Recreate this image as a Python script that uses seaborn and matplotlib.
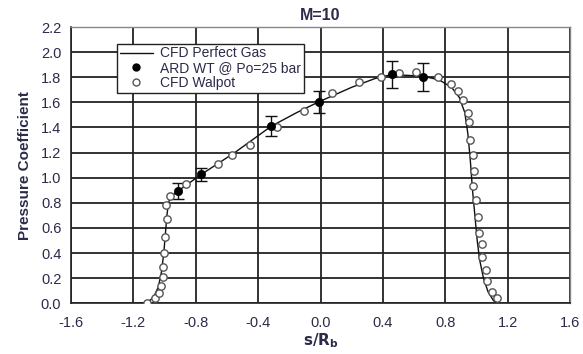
import matplotlib
matplotlib.use("Agg")
import matplotlib.pyplot as plt
from matplotlib.lines import Line2D
import numpy as np
import pandas as pd
import seaborn as sns

# CFD perfect gas curve
cfd_x = [-1.16, -1.11, -1.07, -1.04, -1.02, -1.005, -0.995, -0.985, -0.975, -0.96,
         -0.915, -0.765, -0.55, -0.316, -0.15, -0.011, 0.2, 0.35, 0.457, 0.656,
         0.76, 0.84, 0.89, 0.925, 0.945, 0.96, 0.975, 0.99, 1.005, 1.02,
         1.045, 1.075, 1.11, 1.14]
cfd_y = [0.0, 0.005, 0.05, 0.13, 0.25, 0.4, 0.55, 0.7, 0.8, 0.85,
         0.893, 1.026, 1.2, 1.41, 1.52, 1.604, 1.72, 1.79, 1.822, 1.808,
         1.78, 1.72, 1.64, 1.52, 1.35, 1.15, 0.9, 0.7, 0.5, 0.35,
         0.2, 0.09, 0.02, 0.0]

# ARD wind tunnel data with error bars
ard_x = [-0.915, -0.765, -0.316, -0.011, 0.457, 0.656]
ard_y = [0.893, 1.026, 1.41, 1.604, 1.822, 1.80]
ard_err = [0.065, 0.055, 0.08, 0.09, 0.11, 0.11]

# CFD Walpot
walpot_x = [-1.11, -1.064, -1.036, -1.026, -1.01, -1.01, -1.006, -0.996, -0.983, -0.99,
            -0.968, -0.86, -0.66, -0.566, -0.455, -0.278, -0.109, 0.072, 0.244, 0.385,
            0.502, 0.613, 0.752, 0.838, 0.88, 0.912, 0.949, 0.951, 0.958, 0.976,
            0.984, 0.981, 0.998, 1.008, 1.015, 1.033, 1.038, 1.06, 1.07, 1.098, 1.13]
walpot_y = [0.005, 0.04, 0.08, 0.138, 0.207, 0.29, 0.40, 0.53, 0.67, 0.78,
            0.853, 0.953, 1.108, 1.178, 1.26, 1.40, 1.535, 1.675, 1.763, 1.803,
            1.835, 1.843, 1.803, 1.75, 1.69, 1.62, 1.518, 1.442, 1.30, 1.184,
            1.053, 0.938, 0.82, 0.69, 0.557, 0.475, 0.368, 0.268, 0.177, 0.09, 0.04]

x_ticks = [-1.6, -1.2, -0.8, -0.4, 0.0, 0.4, 0.8, 1.2, 1.6]
y_ticks = [0.0, 0.2, 0.4, 0.6, 0.8, 1.0, 1.2, 1.4, 1.6, 1.8, 2.0, 2.2]

sns.set_style("white")
plt.rcParams['font.family'] = ['Liberation Sans', 'DejaVu Sans']

text_col = '#2b2b4a'

fig = plt.figure(figsize=(5.83, 3.54), dpi=100)
ax = fig.add_axes([0.1218, 0.1432, 0.8559, 0.7805])

cfd_df = pd.DataFrame({'x': cfd_x, 'y': cfd_y})
walpot_df = pd.DataFrame({'x': walpot_x, 'y': walpot_y})
ard_df = pd.DataFrame({'x': ard_x, 'y': ard_y, 'err': ard_err})

sns.lineplot(data=cfd_df, x='x', y='y', sort=False, color='#111111', lw=1.0, ax=ax, zorder=3)
ax.errorbar(ard_df['x'], ard_df['y'], yerr=ard_df['err'], fmt='none', ecolor='#111111',
            elinewidth=1.0, capsize=4, capthick=1.0, zorder=4)
sns.scatterplot(data=walpot_df, x='x', y='y', marker='o', s=28, facecolor='white',
                edgecolor='#555555', linewidth=1.0, ax=ax, zorder=5)
sns.scatterplot(data=ard_df, x='x', y='y', marker='o', s=36, color='black',
                edgecolor='black', ax=ax, zorder=6)

ax.set_xlim(-1.6, 1.6)
ax.set_ylim(0.0, 2.2)
ax.set_xticks(x_ticks)
ax.set_yticks(y_ticks)
ax.set_xticklabels([f"{v:.1f}" for v in x_ticks])
ax.set_yticklabels([f"{v:.1f}" for v in y_ticks])
ax.grid(True, color='#222222', lw=1.3)
ax.set_axisbelow(True)
ax.tick_params(axis='both', direction='out', length=4, width=1, color='#222222',
               labelsize=10.5, labelcolor=text_col)
ax.tick_params(axis='y', pad=3)
ax.tick_params(axis='x', pad=5)
for side in ['top', 'right']:
    ax.spines[side].set_color('#888888')
    ax.spines[side].set_linewidth(1.0)
for side in ['left', 'bottom']:
    ax.spines[side].set_color('#222222')
    ax.spines[side].set_linewidth(1.2)

ax.set_title('M=10', fontsize=11.5, fontweight='bold', color=text_col, pad=5)
ax.set_xlabel(r'$\mathbf{s/R_b}$', fontsize=11, color=text_col, labelpad=1)
ax.set_ylabel('Pressure Coefficient', fontsize=11, fontweight='bold', color=text_col, labelpad=6)

handles = [
    Line2D([0], [0], color='#111111', lw=1.0),
    Line2D([0], [0], marker='o', color='none', markerfacecolor='black',
           markeredgecolor='black', markersize=5),
    Line2D([0], [0], marker='o', color='none', markerfacecolor='white',
           markeredgecolor='#555555', markersize=5),
]
labels = ['CFD Perfect Gas', 'ARD WT @ Po=25 bar', 'CFD Walpot']
leg = ax.legend(handles, labels, loc='upper left', bbox_to_anchor=(0.092, 0.94),
                frameon=True, fancybox=False, framealpha=1, edgecolor='#222222',
                fontsize=10, handlelength=2.4, handletextpad=0.5, borderpad=0.2,
                labelspacing=0.05, borderaxespad=0)
for t in leg.get_texts():
    t.set_color(text_col)
leg.get_frame().set_linewidth(1.0)

fig.savefig('out.png', dpi=100)
